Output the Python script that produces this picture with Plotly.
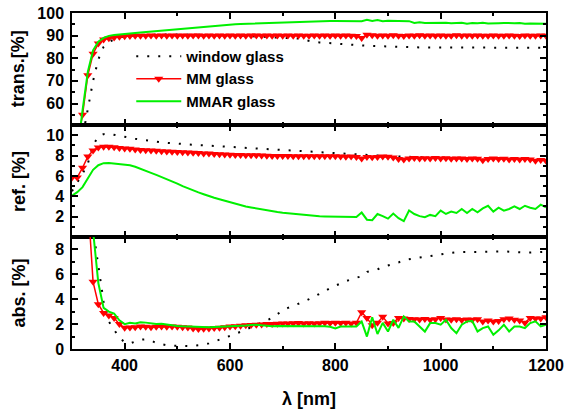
import plotly.graph_objects as go
from plotly.subplots import make_subplots

wavelength = list(range(300, 1201, 10))

trans_window = [8, 20, 45, 58, 70, 79.5, 85, 87.3, 88.4, 89.2,
                89.7, 90.0, 90.2, 90.3, 90.3, 90.4, 90.5, 90.5, 90.5, 90.5,
                90.5, 90.5, 90.5, 90.5, 90.5, 90.5, 90.5, 90.4, 90.4, 90.3,
                90.2, 90.1, 90.0, 89.9, 89.8, 89.7, 89.6, 89.5, 89.4, 89.3,
                89.2, 89.1, 89.0, 88.7, 88.1, 87.6, 87.3, 87.0, 86.8, 86.6,
                86.4, 86.2, 86.0, 85.9, 85.8, 85.6, 85.5, 85.4, 85.3, 85.2,
                85.2, 85.1, 85.0, 85.0, 84.9, 84.9, 84.8, 84.8, 84.8, 84.7,
                84.7, 84.7, 84.7, 84.6, 84.6, 84.6, 84.6, 84.6, 84.6, 84.6,
                84.6, 84.6, 84.6, 84.6, 84.6, 84.6, 84.6, 84.6, 84.6, 84.6,
                84.6]
trans_mm = [30, 42, 55, 72.5, 82, 86.5, 88.3, 88.8, 89.2, 89.5,
            89.7, 89.8, 89.9, 90.0, 90.0, 90.1, 90.0, 90.1, 90.0, 90.1,
            90.0, 90.1, 90.0, 90.1, 90.1, 90.0, 90.1, 90.0, 90.1, 90.0,
            90.1, 90.0, 90.1, 90.0, 90.1, 90.1, 90.0, 90.1, 90.0, 90.1,
            90.0, 90.1, 90.0, 90.1, 90.0, 90.0, 90.1, 90.0, 90.1, 90.0,
            90.1, 90.0, 90.1, 90.0, 89.8, 89.0, 90.4, 90.2, 89.9, 90.1,
            89.9, 90.2, 90.0, 89.8, 90.1, 90.0, 90.2, 89.9, 90.1, 90.0,
            90.1, 89.9, 90.0, 90.2, 89.9, 90.1, 90.0, 90.1, 89.9, 90.0,
            90.1, 90.0, 89.9, 90.1, 90.0, 89.8, 90.1, 90.0, 89.9, 90.1,
            90.0]
trans_mmar = [25, 38, 57, 74, 83.5, 87.3, 89.0, 89.9, 90.3, 90.6,
              90.8, 91.0, 91.2, 91.4, 91.6, 91.8, 92.0, 92.2, 92.5, 92.8,
              93.0, 93.3, 93.5, 93.7, 93.9, 94.1, 94.3, 94.4, 94.6, 94.7,
              94.8, 95.0, 95.1, 95.2, 95.3, 95.4, 95.5, 95.6, 95.7, 95.8,
              95.9, 96.0, 96.0, 96.1, 96.2, 96.3, 96.3, 96.4, 96.4, 96.5,
              96.5, 96.5, 96.5, 96.6, 96.6, 96.4, 97.0, 96.5, 96.9, 96.4,
              96.6, 96.5, 96.7, 96.5, 96.4, 95.6, 95.9, 95.6, 95.7, 95.6,
              95.6, 95.7, 95.5, 95.6, 95.7, 95.3, 95.6, 95.5, 95.7, 95.4,
              95.6, 95.5, 95.6, 95.4, 95.5, 95.6, 95.3, 95.4, 95.3, 95.2,
              95.3]

ref_window = [4.5, 5.3, 6.2, 7.2, 9.0, 9.9, 10.1, 10.13, 10.05, 9.95,
              9.85, 9.75, 9.65, 9.57, 9.5, 9.42, 9.35, 9.3, 9.25, 9.2,
              9.15, 9.12, 9.08, 9.05, 9.02, 9.0, 8.97, 8.93, 8.9, 8.87,
              8.84, 8.8, 8.77, 8.74, 8.71, 8.68, 8.64, 8.6, 8.57, 8.54,
              8.5, 8.47, 8.44, 8.4, 8.37, 8.33, 8.3, 8.27, 8.24, 8.21,
              8.18, 8.15, 8.12, 8.1, 8.07, 8.05, 8.02, 8.0, 7.97, 7.95,
              7.93, 7.91, 7.9, 7.88, 7.86, 7.85, 7.83, 7.82, 7.8, 7.79,
              7.78, 7.77, 7.76, 7.75, 7.74, 7.73, 7.72, 7.71, 7.7, 7.69,
              7.68, 7.67, 7.66, 7.66, 7.65, 7.64, 7.63, 7.62, 7.62, 7.61,
              7.6]
ref_mm = [5.84, 5.85, 6.8, 7.9, 8.5, 8.8, 8.87, 8.87, 8.82, 8.75,
          8.7, 8.66, 8.6, 8.55, 8.52, 8.5, 8.46, 8.43, 8.4, 8.38,
          8.36, 8.33, 8.3, 8.27, 8.24, 8.21, 8.19, 8.16, 8.13, 8.1,
          8.08, 8.06, 8.05, 8.04, 8.03, 8.02, 8.0, 7.98, 7.96, 7.96,
          7.95, 7.95, 7.94, 7.94, 7.93, 7.93, 7.92, 7.92, 7.93, 7.92,
          7.92, 7.9, 7.88, 7.9, 7.86, 7.7, 7.85, 7.83, 7.86, 7.9,
          7.88, 7.8, 7.65, 7.62, 7.72, 7.75, 7.7, 7.74, 7.72, 7.75,
          7.7, 7.73, 7.68, 7.72, 7.7, 7.66, 7.72, 7.68, 7.55, 7.66,
          7.7, 7.65, 7.68, 7.62, 7.65, 7.6, 7.65, 7.62, 7.5, 7.56,
          7.48]
ref_mmar = [4.05, 4.4, 4.9, 5.8, 6.6, 7.05, 7.25, 7.27, 7.22, 7.2,
            7.15, 7.05, 6.9, 6.72, 6.5, 6.3, 6.1, 5.9, 5.7, 5.5,
            5.25, 5.0, 4.78, 4.55, 4.38, 4.2, 4.0, 3.85, 3.7, 3.55,
            3.4, 3.25, 3.12, 3.0, 2.9, 2.8, 2.7, 2.6, 2.52, 2.45,
            2.38, 2.32, 2.26, 2.2, 2.15, 2.1, 2.06, 2.03, 2.01, 2.0,
            2.0, 1.98, 1.96, 1.97, 1.96, 2.4, 1.7, 1.65, 2.26, 2.05,
            1.8, 2.3, 1.85, 1.55, 2.6, 2.26, 2.05, 1.94, 2.17, 2.04,
            2.59, 2.26, 2.49, 2.36, 2.75, 2.36, 2.75, 2.43, 2.81, 3.07,
            2.49, 2.88, 2.59, 2.75, 3.0, 2.75, 3.07, 2.88, 2.75, 3.17,
            2.92]

abs_window = [40, 30, 20, 14, 9.6, 6.8, 3.8, 2.2, 1.5, 0.9,
              0.55, 0.45, 0.6, 0.75, 0.78, 0.68, 0.48, 0.36, 0.3, 0.27,
              0.25, 0.24, 0.24, 0.26, 0.3, 0.35, 0.45, 0.58, 0.75, 0.9,
              1.05, 1.2, 1.38, 1.55, 1.75, 1.92, 2.1, 2.3, 2.5, 2.8,
              3.1, 3.3, 3.45, 3.6, 3.8, 4.0, 4.2, 4.45, 4.65, 4.9,
              5.1, 5.3, 5.45, 5.6, 5.7, 5.85, 6.2, 6.3, 6.4, 6.6,
              6.73, 6.8, 6.95, 7.15, 7.22, 7.27, 7.35, 7.43, 7.5, 7.56,
              7.62, 7.66, 7.73, 7.78, 7.8, 7.8, 7.8, 7.8, 7.82, 7.84,
              7.85, 7.86, 7.85, 7.82, 7.78, 7.75, 7.75, 7.75, 7.78, 7.8,
              7.82]
abs_mm = [60, 45, 30, 12, 5.4, 3.6, 2.9, 2.7, 2.5, 2.0,
          1.7, 1.72, 1.75, 1.8, 1.78, 1.75, 1.78, 1.8, 1.78, 1.8,
          1.78, 1.75, 1.72, 1.65, 1.6, 1.62, 1.65, 1.68, 1.7, 1.75,
          1.8, 1.83, 1.86, 1.9, 1.93, 1.95, 1.97, 2.0, 2.0, 2.02,
          2.05, 2.05, 2.07, 2.08, 2.05, 2.07, 2.05, 2.07, 2.1, 2.08,
          2.1, 2.08, 2.1, 2.05, 2.1, 2.95, 2.5, 1.9, 2.1, 2.6,
          2.05, 2.08, 2.5, 2.45, 2.42, 2.4, 2.38, 2.42, 2.35, 2.4,
          2.5, 2.38, 2.35, 2.4, 2.33, 2.38, 2.35, 2.4, 2.2, 2.3,
          2.2, 2.25, 2.4, 2.45, 2.35, 2.3, 2.1, 2.5, 2.45, 2.45,
          2.55]
abs_mmar = [60, 45, 30, 15, 9.5, 5.3, 3.3, 3.0, 2.85, 2.3,
            2.0, 2.1, 2.05, 2.15, 2.12, 2.05, 2.0, 2.02, 1.95, 1.88,
            1.85, 1.82, 1.8, 1.78, 1.76, 1.75, 1.75, 1.77, 1.78, 1.8,
            1.82, 1.84, 1.86, 1.88, 1.92, 1.95, 1.9, 1.85, 1.82, 1.85,
            1.85, 1.83, 1.85, 1.82, 1.82, 1.8, 1.83, 1.8, 1.83, 1.78,
            1.65, 1.8, 1.82, 1.78, 1.8, 2.2, 1.0, 2.55, 1.2, 2.1,
            1.4, 2.35, 1.7, 2.62, 2.2, 2.2, 1.8, 1.4, 2.08, 2.08,
            1.95, 2.35, 1.68, 1.27, 1.95, 2.22, 2.25, 1.41, 1.68, 1.81,
            1.14, 1.5, 1.95, 1.41, 1.81, 1.81, 1.68, 2.08, 2.22, 1.81,
            1.95]

series_names = ["window glass", "MM glass", "MMAR glass"]
panel_titles = ["trans.[%]", "ref. [%]", "abs. [%]"]
x_title = "λ [nm]"

FONT = "Liberation Sans, Arial, sans-serif"

fig = make_subplots(rows=3, cols=1, shared_xaxes=True, vertical_spacing=0)

panels = [(trans_window, trans_mm, trans_mmar),
          (ref_window, ref_mm, ref_mmar),
          (abs_window, abs_mm, abs_mmar)]

for r, (w, m, a) in enumerate(panels, start=1):
    show = (r == 1)
    fig.add_trace(go.Scatter(x=wavelength, y=w, mode="lines", name=series_names[0],
                             legendgroup="g1", showlegend=show,
                             line=dict(color="black", width=2, dash="2px,9px")), row=r, col=1)
    fig.add_trace(go.Scatter(x=wavelength, y=m, mode="lines+markers", name=series_names[1],
                             legendgroup="g2", showlegend=show,
                             line=dict(color="#ff0000", width=1.5),
                             marker=dict(symbol="triangle-down", size=8, color="#ff0000",
                                         line=dict(width=0))), row=r, col=1)
    fig.add_trace(go.Scatter(x=wavelength, y=a, mode="lines", name=series_names[2],
                             legendgroup="g3", showlegend=show,
                             line=dict(color="#00f000", width=2)), row=r, col=1)

tickfont = dict(family=FONT, size=16, color="black", weight="bold")
common = dict(showline=True, linecolor="black", linewidth=1.5, mirror="ticks",
              ticks="inside", ticklen=6, tickwidth=1.5, tickcolor="black",
              showgrid=False, zeroline=False, tickfont=tickfont)

for r in (1, 2, 3):
    fig.update_xaxes(range=[300, 1200], tick0=400, dtick=200,
                     minor=dict(ticks="inside", ticklen=3, tickwidth=1.5, dtick=100, tick0=300,
                                tickcolor="black", showgrid=False),
                     ticklabelstandoff=1, **common, row=r, col=1)

fig.update_yaxes(range=[50.5, 100], tickmode="linear", tick0=60, dtick=10,
                 minor=dict(ticks="inside", ticklen=3, tickwidth=1.5, tickmode="linear",
                            tick0=55, dtick=5, tickcolor="black", showgrid=False),
                 ticklabelstandoff=3, **common, row=1, col=1)
fig.update_yaxes(range=[0, 11], tickmode="array", tickvals=[2, 4, 6, 8, 10],
                 minor=dict(ticks="inside", ticklen=3, tickwidth=1.5, tickmode="linear",
                            tick0=1, dtick=2, tickcolor="black", showgrid=False),
                 ticklabelstandoff=3, **common, row=2, col=1)
fig.update_yaxes(range=[0, 9], tickmode="array", tickvals=[0, 2, 4, 6, 8],
                 minor=dict(ticks="inside", ticklen=3, tickwidth=1.5, tickmode="linear",
                            tick0=1, dtick=2, tickcolor="black", showgrid=False),
                 ticklabelstandoff=3, **common, row=3, col=1)

titlefont = dict(family=FONT, size=18, color="black", weight="bold")
title_y = [0.835, 0.5, 0.168]
for t, yy in zip(panel_titles, title_y):
    fig.add_annotation(text=t, xref="paper", yref="paper", x=-0.112, y=yy,
                       textangle=-90, showarrow=False, font=titlefont,
                       xanchor="center", yanchor="middle")
fig.add_annotation(text=x_title, xref="paper", yref="paper", x=0.5, y=-0.1475,
                   showarrow=False, font=titlefont, xanchor="center", yanchor="middle")

fig.update_layout(
    width=566, height=412,
    margin=dict(l=72, r=20, t=13, b=63, autoexpand=False),
    paper_bgcolor="white", plot_bgcolor="white",
    showlegend=True,
    legend=dict(x=0.125, y=0.92, xanchor="left", yanchor="top",
                bgcolor="rgba(0,0,0,0)", borderwidth=0,
                font=dict(family=FONT, size=15, color="black", weight="bold"),
                tracegroupgap=0, itemwidth=45),
)

fig.write_html("out.html")
